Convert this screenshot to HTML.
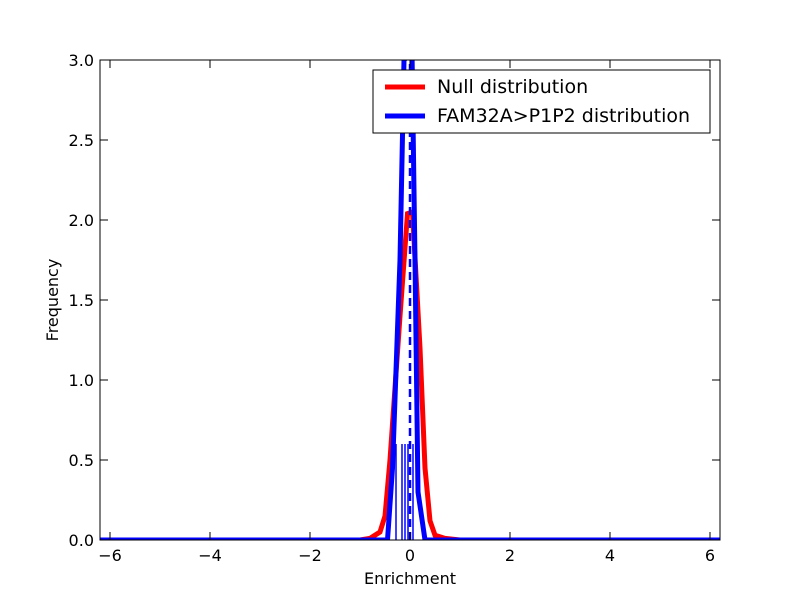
<!DOCTYPE html>
<html><head><meta charset="utf-8"><style>
body{margin:0;background:#fff}
svg text{font-family:"DejaVu Sans","Liberation Sans",sans-serif;font-size:16px;fill:#000}
</style></head><body>
<svg id="chart" width="800" height="600" xmlns="http://www.w3.org/2000/svg">
<rect width="800" height="600" fill="#fff"/>
<g id="marks"></g>
<rect x="100" y="60" width="620" height="480" fill="none" stroke="#000" stroke-width="1"/>
<g id="ticks"></g>
<text x="410" y="584" text-anchor="middle">Enrichment</text>
<text transform="translate(58,300) rotate(-90)" text-anchor="middle">Frequency</text>
<g>
<rect x="373" y="70" width="337" height="63" fill="#fff" stroke="#000" stroke-width="1"/>
<line x1="385" y1="87" x2="425" y2="87" stroke="#f00" stroke-width="5"/>
<text x="437" y="93" style="font-size:19px">Null distribution</text>
<line x1="385" y1="116" x2="425" y2="116" stroke="#00f" stroke-width="5"/>
<text x="437" y="122" style="font-size:19px">FAM32A&gt;P1P2 distribution</text>
</g>
</svg>
<script>
const nullX=[-6.2,-1,-0.8,-0.6,-0.5,-0.4,-0.2,-0.05,0.05,0.2,0.3,0.4,0.5,0.7,1,6.2];
const nullY=[0,0,0.01,0.05,0.15,0.5,1.4,2.04,2.05,1.2,0.45,0.12,0.03,0.01,0,0];
const famX=[-6.2,-0.45,-0.35,-0.2,-0.12,0.04,0.1,0.16,0.3,6.2];
const famY=[0,0,0.45,1.75,3.0,3.05,1.75,0.3,0,0];
const spikeX=[-0.28,-0.16,-0.1,-0.04,0.06];
const spikeY=[0.6,0.6,0.6,0.6,0.6];
const meanX=0, meanY=3.0;
const xTicks=[-6,-4,-2,0,2,4,6];
const yTicks=[0,0.5,1,1.5,2,2.5,3];
const sx=v=>410+v*50, sy=v=>540-v*160;
const NS="http://www.w3.org/2000/svg";
const marks=document.getElementById('marks'), ticks=document.getElementById('ticks');
function mk(t,a,p){const e=document.createElementNS(NS,t);for(const k in a)e.setAttribute(k,a[k]);p.appendChild(e);return e;}
const clip=mk('clipPath',{id:'c'},marks);mk('rect',{x:100,y:60,width:620,height:480},clip);
const g=mk('g',{'clip-path':'url(#c)'},marks);
spikeX.forEach((x,i)=>{const l=mk('line',{x1:sx(x),x2:sx(x),y1:sy(0),y2:sy(spikeY[i]),stroke:'#00f','stroke-width':1.5},g);

});
const r=mk('polyline',{points:nullX.map((x,i)=>sx(x)+','+sy(nullY[i])).join(' '),fill:'none',stroke:'#f00','stroke-width':5},g);


const b=mk('polyline',{points:famX.map((x,i)=>sx(x)+','+sy(famY[i])).join(' '),fill:'none',stroke:'#00f','stroke-width':5},g);


const d=mk('line',{x1:sx(meanX),x2:sx(meanX),y1:sy(0),y2:sy(meanY),stroke:'#00f','stroke-width':2.5,'stroke-dasharray':'8,5'},g);


xTicks.forEach(v=>{const x=sx(v);mk('line',{x1:x,x2:x,y1:540,y2:532,stroke:'#000'},ticks);mk('line',{x1:x,x2:x,y1:60,y2:68,stroke:'#000'},ticks);
const t=mk('text',{x:x,y:561,'text-anchor':'middle'},ticks);t.textContent=(v<0?'\u2212'+(-v):v);

});
yTicks.forEach(v=>{const y=sy(v);mk('line',{x1:100,x2:108,y1:y,y2:y,stroke:'#000'},ticks);mk('line',{x1:712,x2:720,y1:y,y2:y,stroke:'#000'},ticks);
const t=mk('text',{x:94,y:y+6,'text-anchor':'end'},ticks);t.textContent=v.toFixed(1);

});
</script>
</body></html>
